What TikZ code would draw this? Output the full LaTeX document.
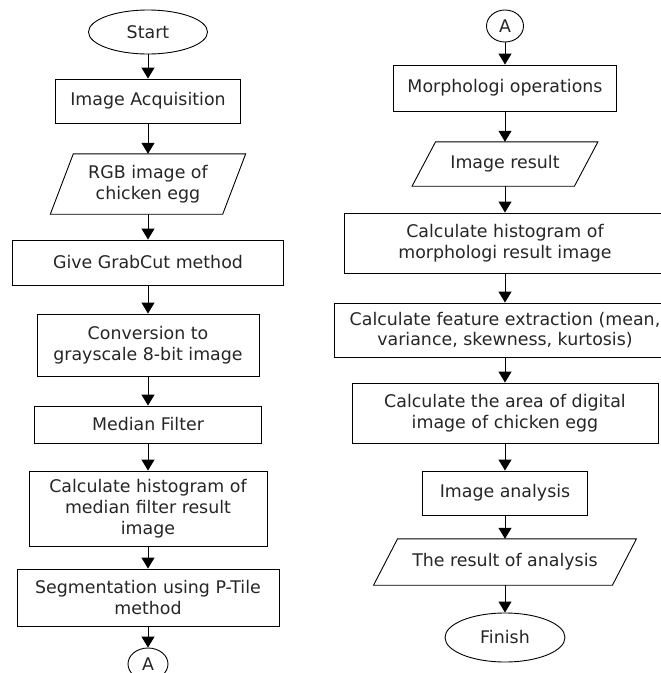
\documentclass[tikz,border=0pt]{standalone}
\usepackage{fontspec}
\setmainfont{DejaVu Sans}
\usetikzlibrary{arrows.meta,shapes.geometric}
\tikzset{
  base/.style={align=center, inner sep=0pt, text=black!85,
    font=\fontsize{17.4}{20.8}\selectfont},
  procbox/.style={base, draw, line width=0.9pt, rectangle},
  termbox/.style={base, draw, line width=0.9pt, ellipse},
  conn/.style={base, draw, line width=0.9pt, ellipse},
  iobox/.style={base, rectangle},
  flow/.style={line width=1pt, -{Triangle[width=13pt,length=11pt]}},
}
\newcommand{\paraframe}[2]{%
  \draw[line width=0.9pt] ([xshift=#2]#1.north west) -- ([xshift=#2]#1.north east)
    -- ([xshift=-#2]#1.south east) -- ([xshift=-#2]#1.south west) -- cycle;}
\begin{document}
\begin{tikzpicture}[x=1pt,y=-1pt]
\useasboundingbox (0,0) rectangle (661,673);
\clip (0,0) rectangle (661,673);
\fill[white] (0,0) rectangle (661,673);
% left column
\node[termbox, minimum width=119pt, minimum height=44pt] (start) at (148,32) {Start};
\node[procbox, minimum width=185pt, minimum height=44pt] (acq) at (148,101) {Image Acquisition};
\node[iobox, minimum width=172pt, minimum height=60pt] (rgb) at (148,184) {RGB image of\\chicken egg};
\paraframe{rgb}{11.5pt}
\node[procbox, minimum width=271pt, minimum height=45pt] (grab) at (148,262.5) {Give GrabCut method};
\node[procbox, minimum width=222pt, minimum height=62pt] (conv) at (148,345) {Conversion to\\grayscale 8-bit image};
\node[procbox, minimum width=227pt, minimum height=37pt] (median) at (148,424.5) {Median Filter};
\node[procbox, minimum width=238pt, minimum height=75pt] (hist) at (148,508.5) {Calculate histogram of\\median filter result\\image};
\node[procbox, minimum width=262pt, minimum height=57pt] (seg) at (148,597.5) {Segmentation using P-Tile\\method};
\node[conn, minimum width=40pt, minimum height=32pt] (a1) at (148,664) {A};
% right column
\node[conn, minimum width=37pt, minimum height=32pt] (a2) at (505,26) {A};
\node[procbox, minimum width=223pt, minimum height=46pt] (morph) at (505,88) {Morphologi operations};
\node[iobox, minimum width=162pt, minimum height=44pt] (imres) at (505,164) {Image result};
\paraframe{imres}{11.75pt}
\node[procbox, minimum width=322pt, minimum height=60pt] (hist2) at (505,243) {Calculate histogram of\\morphologi result image};
\node[procbox, minimum width=342pt, minimum height=54pt] (feat) at (505,330) {Calculate feature extraction (mean,\\variance, skewness, kurtosis)};
\node[procbox, minimum width=306pt, minimum height=60pt] (area) at (505,413) {Calculate the area of digital\\image of chicken egg};
\node[procbox, minimum width=165pt, minimum height=44pt] (anal) at (505,493) {Image analysis};
\node[iobox, minimum width=238.5pt, minimum height=46pt] (res) at (505,562) {The result of analysis};
\paraframe{res}{12pt}
\node[termbox, minimum width=120pt, minimum height=49pt] (finish) at (505,637.5) {Finish};
% connectors
\draw[flow] (start) -- (acq);
\draw[flow] (acq) -- (rgb);
\draw[flow] (rgb) -- (grab);
\draw[flow] (grab) -- (conv);
\draw[flow] (conv) -- (median);
\draw[flow] (median) -- (hist);
\draw[flow] (hist) -- (seg);
\draw[flow] (seg) -- (a1);
\draw[flow] (a2) -- (morph);
\draw[flow] (morph) -- (imres);
\draw[flow] (imres) -- (hist2);
\draw[flow] (hist2) -- (feat);
\draw[flow] (feat) -- (area);
\draw[flow] (area) -- (anal);
\draw[flow] (anal) -- (res);
\draw[flow] (res) -- (finish);
\end{tikzpicture}
\end{document}
